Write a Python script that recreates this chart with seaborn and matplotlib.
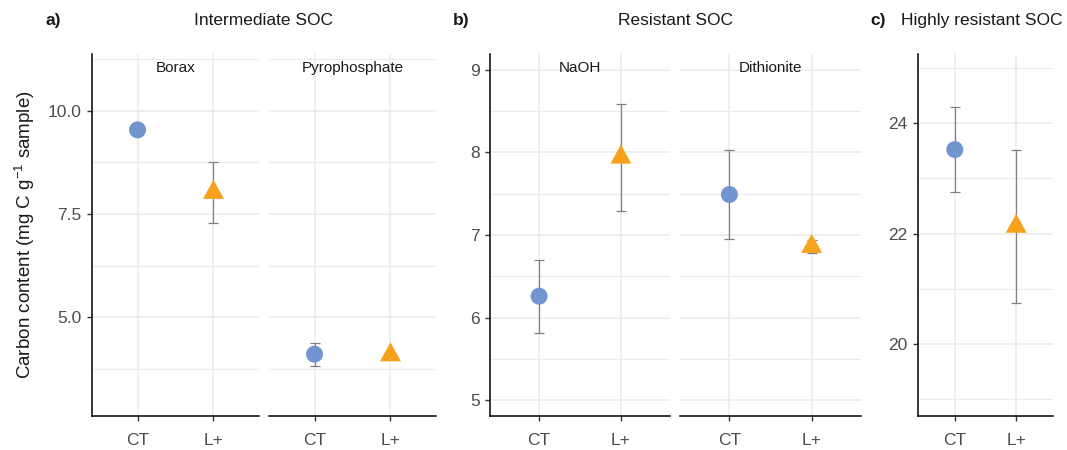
import numpy as np
import pandas as pd
import matplotlib
matplotlib.use("Agg")
import matplotlib.pyplot as plt
from matplotlib.path import Path
from matplotlib.ticker import MultipleLocator, FormatStrFormatter
import seaborn as sns

# ---- data: mean carbon content and error (mg C g-1 sample) ----
treatments = ["CT", "L+"]

borax_mean = [9.54, 8.02]
borax_err = [0.08, 0.74]
pyro_mean = [4.10, 4.08]
pyro_err = [0.28, 0.04]

naoh_mean = [6.26, 7.94]
naoh_err = [0.44, 0.65]
dith_mean = [7.49, 6.86]
dith_err = [0.54, 0.08]

hres_mean = [23.52, 22.13]
hres_err = [0.77, 1.39]

sns.set_theme(style="white")
plt.rcParams["font.family"] = ["Liberation Sans", "DejaVu Sans"]
plt.rcParams["mathtext.fontset"] = "custom"
plt.rcParams["mathtext.rm"] = "Liberation Sans"

palette = {"CT": "#7196CF", "L+": "#F7A21E"}
# triangle centred on its centroid
tri = Path([(0, 2 / 3), (-0.55, -1 / 3), (0.55, -1 / 3), (0, 2 / 3)],
           [Path.MOVETO, Path.LINETO, Path.LINETO, Path.CLOSEPOLY])
markers = {"CT": "o", "L+": tri}
sizes = {"CT": 150, "L+": 335}

W, H = 1067, 450
fig = plt.figure(figsize=(W / 100, H / 100), dpi=100)


def px_axes(x0, x1, y0=54, y1=416):
    return fig.add_axes([x0 / W, (H - y1) / H, (x1 - x0) / W, (y1 - y0) / H])


def draw_facet(ax, means, errs, ylim, major, minor, fmt, strip=None, show_y=True):
    df = pd.DataFrame({"Treatment": treatments, "Carbon": means, "err": errs})
    ax.errorbar(x=np.arange(len(treatments)), y=df["Carbon"], yerr=df["err"],
                fmt="none", ecolor="#808080", elinewidth=0.9, capsize=3.5,
                capthick=0.9, zorder=2)
    sns.scatterplot(data=df, x="Treatment", y="Carbon", hue="Treatment",
                    style="Treatment", size="Treatment", palette=palette,
                    markers=markers, sizes=sizes, linewidth=0, legend=False,
                    ax=ax, zorder=3)
    ax.set_xlim(-0.6, 1.6)
    ax.set_ylim(*ylim)
    ax.yaxis.set_major_locator(MultipleLocator(major))
    ax.yaxis.set_minor_locator(MultipleLocator(minor))
    ax.yaxis.set_major_formatter(FormatStrFormatter(fmt))
    ax.set_xlabel("")
    ax.set_ylabel("")
    ax.set_axisbelow(True)
    ax.grid(True, which="major", axis="both", color="#EBEBEB", lw=1.1)
    ax.grid(True, which="minor", axis="y", color="#EBEBEB", lw=0.9)
    for s in ["top", "right"]:
        ax.spines[s].set_visible(False)
    ax.spines["bottom"].set_color("black")
    ax.spines["bottom"].set_linewidth(1.1)
    ax.tick_params(axis="x", which="major", length=3.5, width=1.0,
                   color="#333333", labelsize=12.5, labelcolor="#4D4D4D", pad=9,
                   bottom=True)
    ax.tick_params(axis="y", which="minor", length=0, left=False)
    if show_y:
        ax.spines["left"].set_color("black")
        ax.spines["left"].set_linewidth(1.1)
        ax.tick_params(axis="y", which="major", length=3.5, width=1.0,
                       color="#333333", labelsize=12.5, labelcolor="#4D4D4D",
                       pad=4, left=True)
    else:
        ax.spines["left"].set_visible(False)
        ax.tick_params(axis="y", which="major", length=0, labelleft=False, left=False)
    if strip:
        ax.text(0.5, 0.962, strip, transform=ax.transAxes, ha="center",
                va="center", fontsize=11, color="#1A1A1A", zorder=4)


# a) intermediate SOC
ax_a1 = px_axes(92, 259)
ax_a2 = px_axes(269, 436)
ylim_a = (2.6, 11.38)
draw_facet(ax_a1, borax_mean, borax_err, ylim_a, 2.5, 1.25, "%.1f", "Borax")
draw_facet(ax_a2, pyro_mean, pyro_err, ylim_a, 2.5, 1.25, "%.1f", "Pyrophosphate",
           show_y=False)

# b) resistant SOC
ax_b1 = px_axes(490, 670)
ax_b2 = px_axes(680, 861)
ylim_b = (4.81, 9.19)
draw_facet(ax_b1, naoh_mean, naoh_err, ylim_b, 1, 0.5, "%.0f", "NaOH")
draw_facet(ax_b2, dith_mean, dith_err, ylim_b, 1, 0.5, "%.0f", "Dithionite",
           show_y=False)

# c) highly resistant SOC
ax_c = px_axes(918, 1053)
draw_facet(ax_c, hres_mean, hres_err, (18.7, 25.25), 2, 1, "%.0f")

# panel headings
def fig_text(x, y, s, **kw):
    fig.text(x / W, 1 - y / H, s, va="center", fontsize=12.5, color="#1A1A1A", **kw)

fig_text(46, 20.5, "a)", fontweight="bold", ha="left")
fig_text(264, 20.5, "Intermediate SOC", ha="center")
fig_text(453, 20.5, "b)", fontweight="bold", ha="left")
fig_text(675, 20.5, "Resistant SOC", ha="center")
fig_text(870, 20.5, "c)", fontweight="bold", ha="left")
fig_text(901, 20.5, "Highly resistant SOC", ha="left")

fig.text(25 / W, 1 - 235 / H, r"Carbon content (mg C g$^{-1}$ sample)",
         rotation=90, ha="center", va="center", fontsize=13.5, color="#1A1A1A")

fig.savefig("out.png", dpi=100)
